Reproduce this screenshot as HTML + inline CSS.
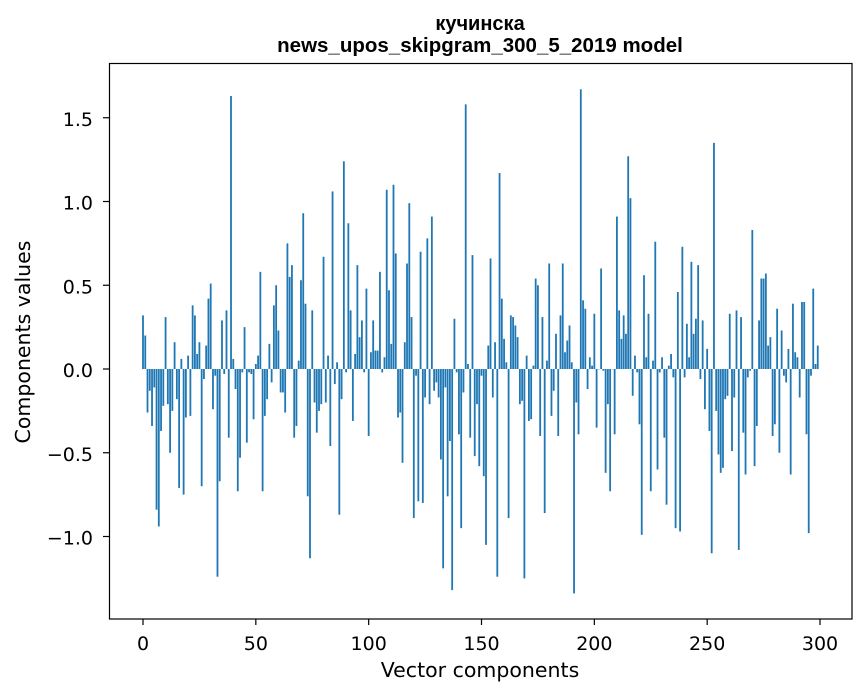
<!DOCTYPE html>
<html><head><meta charset="utf-8"><style>
html,body{margin:0;padding:0;background:#fff;}
svg{display:block;font-family:"DejaVu Sans","Liberation Sans",sans-serif;}
</style></head><body>
<svg id="chart" width="867" height="696" viewBox="0 0 867 696">
<rect x="0" y="0" width="867" height="696" fill="#fff"/>
<text x="480" y="30" text-anchor="middle" font-size="20" font-weight="bold" font-family="Liberation Sans, sans-serif">кучинска</text>
<text x="480" y="52" text-anchor="middle" font-size="20.5" font-weight="bold" font-family="Liberation Sans, sans-serif">news_upos_skipgram_300_5_2019 model</text>
<g id="bars"></g>
<g id="xticks"></g>
<g id="yticks"></g>
<rect x="109.5" y="63.5" width="742.5" height="555.5" fill="none" stroke="#000" stroke-width="1.2"/>
<text x="480" y="677" text-anchor="middle" font-size="20.5">Vector components</text>
<text transform="translate(30,342) rotate(-90)" text-anchor="middle" font-size="20.5">Components values</text>
</svg>
<script>
const values = [
0.32,0.20,-0.26,-0.13,-0.34,-0.11,-0.84,-0.94,-0.37,-0.22,
0.31,-0.21,-0.50,-0.25,0.16,-0.18,-0.71,0.06,-0.75,-0.29,
0.08,-0.28,0.38,0.32,0.09,0.16,-0.70,-0.06,0.14,0.42,
0.51,-0.24,-0.04,-1.24,-0.67,0.29,-0.03,0.35,-0.41,1.63,
0.06,-0.12,-0.73,-0.53,-0.02,0.25,-0.44,-0.02,-0.03,-0.30,
0.03,0.08,0.58,-0.73,-0.28,-0.18,0.15,-0.08,0.38,0.50,
0.23,-0.14,-0.14,-0.26,0.75,0.55,0.62,-0.41,-0.34,0.05,
0.53,0.93,0.39,-0.76,-1.13,0.35,-0.20,-0.38,-0.25,-0.21,
0.67,-0.20,0.08,-0.46,1.06,-0.09,0.04,-0.87,-0.18,1.24,
-0.02,0.87,0.35,-0.31,0.09,0.62,0.19,0.29,-0.02,0.48,
-0.40,0.10,0.29,0.11,0.11,0.58,-0.02,0.07,1.07,0.47,
0.15,1.10,0.69,-0.29,-0.26,-0.56,0.16,0.63,0.99,0.31,
-0.89,-0.04,-0.79,0.70,-0.80,-0.17,0.78,-0.21,0.91,-0.13,
-0.08,-0.17,-0.54,-1.19,-0.11,-0.76,-0.43,-1.32,0.30,-0.02,
-0.39,-0.95,-0.14,1.58,0.03,-0.41,0.68,-0.52,-0.21,-0.58,
-0.04,-0.64,-1.05,0.14,0.66,-0.17,0.16,-1.24,1.17,0.42,
0.18,0.04,-0.89,0.32,0.31,0.26,0.19,-0.21,-0.19,-1.25,
0.08,-0.31,-0.30,0.02,0.54,0.50,-0.40,0.31,-0.86,0.05,
0.63,-0.28,-0.13,0.21,-0.40,0.32,0.63,0.10,0.17,0.26,
0.04,-1.34,-0.20,-0.39,1.67,0.41,0.36,-0.12,0.07,0.02,
0.33,-0.35,0.00,0.60,-0.01,-0.62,-0.21,-0.73,0.00,-0.39,
0.91,0.35,0.18,0.32,0.21,1.27,1.02,-0.16,0.08,-0.02,
-0.33,-0.99,0.56,0.07,0.33,-0.73,0.05,0.76,-0.60,-0.02,
0.07,-0.41,-0.81,0.02,0.09,-0.05,-0.95,0.46,-0.97,0.73,
-0.05,0.27,0.07,0.64,0.21,0.30,0.62,-0.06,0.29,-0.24,
0.12,-0.37,-1.10,1.35,-0.25,-0.51,-0.62,-0.59,-0.18,-0.16,
0.33,-0.49,-0.17,0.35,-1.08,0.31,-0.38,-0.63,-0.05,-0.01,
0.83,-0.58,-0.34,0.29,0.54,0.54,0.57,0.14,0.19,-0.40,
-0.33,0.36,-0.50,0.23,-0.04,-0.08,0.12,-0.63,0.39,0.10,
0.07,-0.17,0.40,0.40,-0.39,-0.98,-0.04,0.48,0.03,0.14
];
const xTickValues = [0,50,100,150,200,250,300];
const yTickValues = [-1.0,-0.5,0.0,0.5,1.0,1.5];
const yTickLabels = ["\u22121.0","\u22120.5","0.0","0.5","1.0","1.5"];

const NS = "http://www.w3.org/2000/svg";
function xScale(i){ return 143 + 2.2567 * i; }
function yScale(v){ return 369 - 167.5 * v; }

const barsG = document.getElementById('bars');
values.forEach(function(v, i){
  const r = document.createElementNS(NS, 'rect');
  const y0 = yScale(0), y1 = yScale(v);
  r.setAttribute('x', (xScale(i) - 0.9).toFixed(2));
  r.setAttribute('width', '1.8');
  r.setAttribute('y', Math.min(y0, y1).toFixed(2));
  r.setAttribute('height', Math.max(Math.abs(y1 - y0), 0.3).toFixed(2));
  r.setAttribute('fill', '#1f77b4');
  
  
  barsG.appendChild(r);
});

const xg = document.getElementById('xticks');
xTickValues.forEach(function(t){
  const x = xScale(t);
  const l = document.createElementNS(NS, 'line');
  l.setAttribute('x1', x); l.setAttribute('x2', x);
  l.setAttribute('y1', 619); l.setAttribute('y2', 625);
  l.setAttribute('stroke', '#000'); l.setAttribute('stroke-width', '1.2');
  
  
  xg.appendChild(l);
  const tx = document.createElementNS(NS, 'text');
  tx.setAttribute('x', x); tx.setAttribute('y', 650);
  tx.setAttribute('text-anchor', 'middle'); tx.setAttribute('font-size', '19');
  tx.textContent = String(t);
  
  
  xg.appendChild(tx);
});

const yg = document.getElementById('yticks');
yTickValues.forEach(function(t, k){
  const y = yScale(t);
  const l = document.createElementNS(NS, 'line');
  l.setAttribute('x1', 103); l.setAttribute('x2', 109);
  l.setAttribute('y1', y); l.setAttribute('y2', y);
  l.setAttribute('stroke', '#000'); l.setAttribute('stroke-width', '1.2');
  
  
  yg.appendChild(l);
  const tx = document.createElementNS(NS, 'text');
  tx.setAttribute('x', 93); tx.setAttribute('y', y + 8);
  tx.setAttribute('text-anchor', 'end'); tx.setAttribute('font-size', '19');
  tx.textContent = yTickLabels[k];
  
  
  yg.appendChild(tx);
});
</script>
</body></html>
